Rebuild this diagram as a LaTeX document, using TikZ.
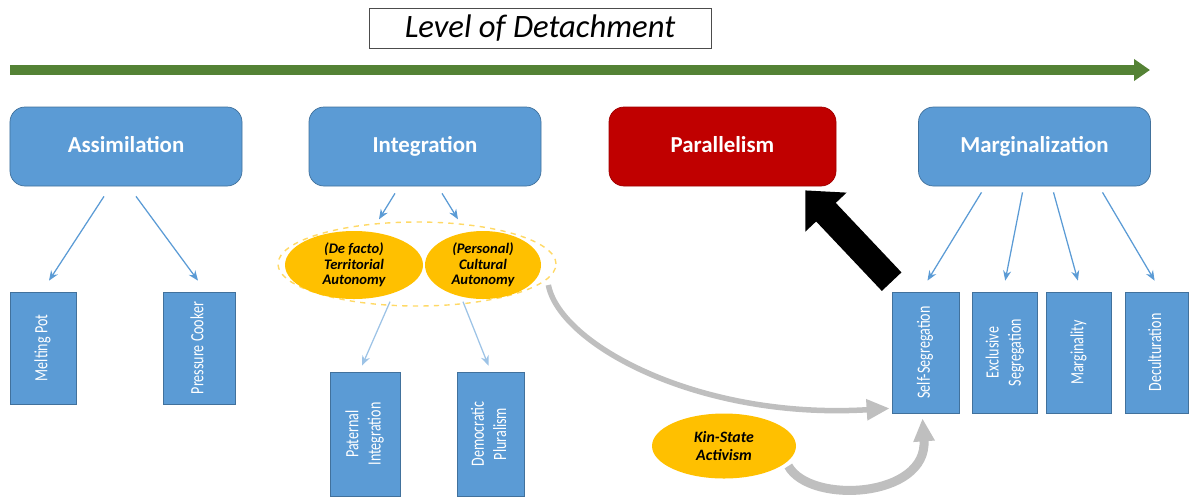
\documentclass[tikz,border=0pt]{standalone}
\usepackage{fontspec}
\setmainfont{Carlito}
\usetikzlibrary{positioning,calc,arrows.meta,shapes.geometric}

\definecolor{boxblue}{HTML}{5B9BD5}
\definecolor{edgeblue}{HTML}{41719C}
\definecolor{parred}{HTML}{C00000}
\definecolor{paredge}{HTML}{A00000}
\definecolor{gold}{HTML}{FFC000}
\definecolor{lightgold}{HTML}{FFD966}
\definecolor{detgreen}{HTML}{548235}
\definecolor{paleblue}{HTML}{9DC3E6}

% upright label set sideways, a little condensed
\newcommand{\sidetext}[1]{\rotatebox{90}{\scalebox{1}[1.33]{\fontsize{8}{9.5}\selectfont\begin{tabular}{@{}c@{}}#1\end{tabular}}}}

\begin{document}
\begin{tikzpicture}[
    x=0.2mm, y=-0.2mm,
    every node/.style={font=\fontsize{8}{12}\selectfont},
    top/.style={draw=edgeblue,fill=boxblue,rounded corners=3mm,minimum width=46.4mm,minimum height=15.8mm,text=white,text depth=0.8mm,font=\fontsize{13}{15}\selectfont\bfseries},
    leaf/.style={draw=edgeblue,fill=boxblue,text=white,minimum width=#1,inner sep=0pt},
    oval/.style={ellipse,fill=gold,inner sep=0pt,minimum height=13.6mm,align=center,font=\fontsize{8.3}{8.8}\selectfont\bfseries\itshape},
    sub/.style={-{Stealth[length=2mm,width=1.6mm]},boxblue,line width=0.25mm},
    curvearrow/.style={-{Triangle[width=4mm,length=4.6mm]},gray!50,line width=1.1mm}
]
\useasboundingbox (0,0) rectangle (1189,498);

% Title and scale arrow
\node[draw=black!70,minimum width=68.4mm,minimum height=8mm,font=\fontsize{18.6}{20}\selectfont\itshape] (title) at (540,28) {Level of Detachment};
\coordinate (gstart) at (10,70);
\coordinate (gend) at (1150,70);
\draw[detgreen,line width=2mm,-{Triangle[width=4.2mm,length=3.2mm]}] (gstart) -- (gend);

% Main categories
\node[top] (assim) at (126,146.5) {Assimilation};
\node[top] (integ) at (425,146.5) {Integration};
\node[top,draw=paredge,fill=parred,minimum width=45.4mm] (par) at (722.5,146.5) {Parallelism};
\node[top] (marg) at (1034.5,146.5) {Marginalization};

% Assimilation
\node[leaf=13.2mm,minimum height=22.4mm] (melt) at (43,348) {\sidetext{Melting Pot}};
\node[leaf=14.4mm,minimum height=22.4mm] (press) at (199,348) {\sidetext{Pressure Cooker}};
\draw[sub] ($(assim.south)+(-22,10)$) -- ($(melt.north)+(6,-11)$);
\draw[sub] ($(assim.south)+(10,10)$) -- ($(press.north)+(-1,-11)$);

% Integration
\node[ellipse,draw=lightgold,dashed,thick,minimum width=55.6mm,minimum height=16.8mm] (auto) at (417,264) {};
\node[oval,minimum width=27.6mm] (terr) at (354,265) {(De facto)\\Territorial\\Autonomy};
\node[oval,minimum width=23.2mm] (cult) at (483,265) {(Personal)\\Cultural\\Autonomy};
\draw[sub] ($(integ.south)+(-30,7)$) -- ($(auto.north)+(-38,-2)$);
\draw[sub] ($(integ.south)+(17,7)$) -- ($(auto.north)+(41,-2)$);

\node[leaf=14mm,minimum height=24.8mm] (pat) at (365,434) {\sidetext{Paternal\\Integration}};
\node[leaf=13.4mm,minimum height=24.8mm] (dem) at (490.5,434) {\sidetext{Democratic\\Pluralism}};
\draw[sub,paleblue] ($(auto.south)+(-27,-5)$) -- ($(pat.north)+(-3,-6)$);
\draw[sub,paleblue] ($(auto.south)+(46,-5)$) -- ($(dem.north)+(-2,-6)$);

% Marginalization
\node[leaf=13.4mm,minimum height=24.2mm] (selfseg) at (925.5,352.5) {\sidetext{Self-Segregation}};
\node[leaf=13mm,minimum height=24.2mm,right=2.6mm of selfseg] (excl) {\sidetext{Exclusive\\Segregation}};
\node[leaf=13mm,minimum height=24.2mm,right=1.6mm of excl] (margy) {\sidetext{Marginality}};
\node[leaf=12.6mm,minimum height=24.2mm,right=2.6mm of margy] (decul) {\sidetext{Deculturation}};
\draw[sub] ($(marg.south)+(-53,6)$) -- ($(selfseg.north)+(2,-11)$);
\draw[sub] ($(marg.south)+(-12,6)$) -- ($(excl.north)+(0,-11)$);
\draw[sub] ($(marg.south)+(19,6)$) -- ($(margy.north)+(-1,-11)$);
\draw[sub] ($(marg.south)+(68,6)$) -- ($(decul.north)+(-2,-11)$);

% Pull towards parallelism
\draw[black,line width=5.4mm,-{Triangle[width=11mm,length=6mm]}] ($(selfseg.north west)+(0,-10)$) -- ($(par.south east)+(-31,4)$);

% Kin-state and curved arrows
\node[oval,minimum width=28.8mm,minimum height=13mm,font=\fontsize{9}{10}\selectfont\bfseries\itshape] (kin) at (724,446) {Kin-State\\Activism};
\draw[curvearrow] ($(cult.east)+(7,20)$) .. controls (560,345) and (700,420) .. ($(selfseg.south west)+(-2,-5)$);
\draw[curvearrow,line width=1.8mm] ($(kin.east)+(-8,20)$) .. controls (810,505) and (928,498) .. ($(selfseg.south)+(-3,5)$);

\end{tikzpicture}
\end{document}
